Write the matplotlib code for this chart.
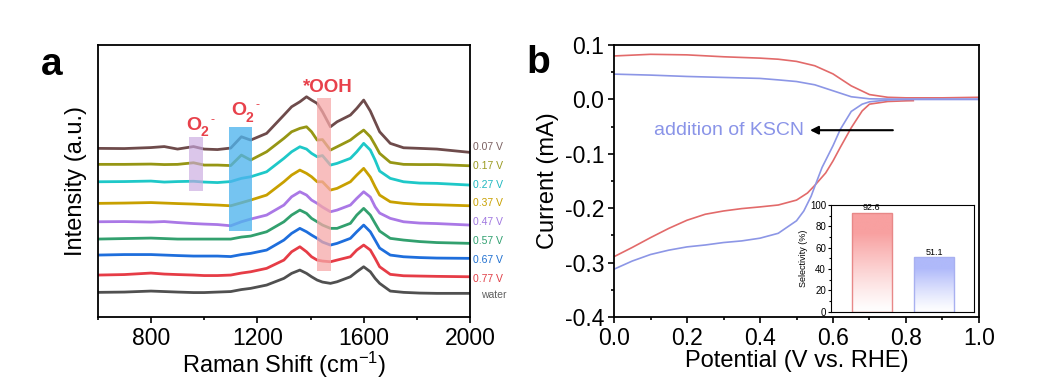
import numpy as np
import matplotlib
matplotlib.use('Agg')
import matplotlib.pyplot as plt
from matplotlib.ticker import MultipleLocator, FormatStrFormatter, NullLocator
import matplotlib.transforms as mtransforms
from matplotlib.colors import to_rgb

plt.rcParams['font.family'] = ['Liberation Sans', 'DejaVu Sans']
plt.rcParams['mathtext.fontset'] = 'custom'
plt.rcParams['mathtext.rm'] = 'Liberation Sans'
plt.rcParams['mathtext.it'] = 'Liberation Sans:italic'
plt.rcParams['mathtext.bf'] = 'Liberation Sans:bold'
plt.rcParams['axes.unicode_minus'] = False

# ---------------- Panel a data (Raman) ----------------
raman_shift = [600, 700, 800, 850, 900, 960, 1000, 1050, 1100, 1140, 1175, 1235, 1300, 1329,
               1360, 1385, 1404, 1425, 1445, 1475, 1500, 1550, 1574, 1600, 1625, 1643, 1660,
               1700, 1750, 1810, 1875, 2000]
spec_007 = [168.7, 168.5, 169.5, 170.5, 168, 170.5, 168, 167.5, 169, 180.3, 177, 183.7, 202, 210.3,
            215.3, 220.3, 217, 213.7, 205.3, 190.3, 195.3, 202, 208.7, 217, 206, 195.3, 185.3,
            173.7, 169.3, 168.7, 168, 164.7]
spec_017 = [152.7, 152.7, 153, 152.5, 152.7, 154.3, 152, 152, 151.5, 162, 157, 165.3, 178.7, 185.3,
            188.7, 190.3, 185.3, 177, 177.5, 167, 170.3, 177, 182, 187, 180.3, 172, 163.7,
            154.7, 152.7, 152.5, 152.5, 151.3]
spec_027 = [135.3, 135.5, 136, 135, 135.5, 135.8, 135, 134.5, 135.5, 138.7, 140.3, 145.3, 158.7, 165.3,
            170.3, 168, 163.7, 160.3, 161.5, 152, 153.7, 158.7, 165.3, 173.7, 167, 157, 146,
            138.7, 135.3, 134, 133.7, 132]
spec_037 = [113.7, 114, 114.5, 114, 113.5, 113, 112.5, 112, 111.3, 114.3, 117, 122, 135.3, 142,
            147, 143.7, 140.3, 135.3, 135.3, 127, 128.7, 135.3, 142, 148.7, 140, 130.3, 122,
            115.3, 113.7, 112.7, 112.3, 111.3]
spec_047 = [95.3, 95.5, 95, 95.5, 94.5, 93.5, 93, 92.5, 91.3, 95.3, 98, 102, 112, 120.3,
            125.3, 122, 117, 113.7, 110, 105.3, 107, 112, 118.7, 125.3, 120, 110.3, 104,
            98.7, 95.3, 94, 93.5, 92]
spec_057 = [78, 78.5, 79, 78.5, 78, 78, 78, 78, 78, 80, 81, 85.3, 95.3, 102,
            107, 103.7, 98.7, 95.3, 92, 88.7, 88.7, 93.7, 102, 108.7, 102, 93.7, 86,
            78.7, 77, 75.5, 74.5, 73.7]
spec_067 = [62, 62.5, 62.5, 62, 61.5, 61, 61, 61, 60.5, 62.5, 63.7, 67, 77, 83.7,
            88.7, 85.3, 82, 78.7, 75, 72, 73.7, 78.7, 85.3, 92, 85.3, 77, 69,
            62, 60.3, 59.5, 59, 58.7]
spec_077 = [42, 42.5, 44, 43, 42.5, 42, 41.5, 41.5, 42, 44, 45.3, 48.7, 57, 65.3,
            70.3, 65.3, 60.3, 57, 56, 55.3, 57, 60.3, 67, 72, 67, 58.7, 50.3,
            42.7, 41.3, 41, 40.7, 40.3]
spec_water = [24.7, 25, 26, 25.5, 25, 24.5, 24.5, 25, 25.5, 27.5, 28.7, 32, 38.7, 43.7,
              47, 43.7, 40.3, 37, 35, 33.7, 35.3, 40.3, 45.3, 50.3, 45.3, 38.7, 33.7,
              26, 24.7, 24, 23.7, 23.7]
spectra = [spec_007, spec_017, spec_027, spec_037, spec_047, spec_057, spec_067, spec_077, spec_water]
spec_labels = ['0.07 V', '0.17 V', '0.27 V', '0.37 V', '0.47 V', '0.57 V', '0.67 V', '0.77 V', 'water']
spec_label_y = [169.7, 151, 132, 113.7, 95.3, 76.3, 57, 37.7, 22]
spec_colors = ['#6E4B4B', '#969614', '#1EC8C8', '#C8A000', '#AA78E6', '#32A06E', '#1E6EDC',
               '#E63C46', '#505050']
label_colors = ['#7A6060', '#9A9A20', '#20B8C0', '#C8A000', '#A078E0', '#30A070', '#2070D0',
                '#E04048', '#606060']

# highlight bands: (x0, x1, y0, y1)
band_o2_a = (943, 996, 126.3, 180.3)
band_o2_b = (1093, 1180, 86.3, 190.3)
band_ooh = (1423, 1476, 46, 219.3)

# ---------------- Panel b data (LSV) ----------------
pot_up = [0, 0.1, 0.2, 0.3, 0.4, 0.45, 0.5, 0.55, 0.6, 0.65, 0.7, 0.75, 0.8, 0.9, 1.0]
ring_red = [0.080, 0.083, 0.082, 0.0785, 0.076, 0.074, 0.070, 0.062, 0.047, 0.025, 0.009,
            0.004, 0.003, 0.003, 0.004]
ring_blue = [0.0466, 0.0448, 0.0423, 0.0405, 0.0387, 0.036, 0.033, 0.027, 0.016, 0.005,
             0.0012, 0.0008, 0.0006, 0.0006, 0.0006]
pot_red = [0, 0.05, 0.1, 0.15, 0.2, 0.25, 0.3, 0.35, 0.4, 0.45, 0.5, 0.53, 0.55, 0.58, 0.6,
           0.62, 0.65, 0.68, 0.7, 0.75, 0.8, 0.82]
disk_red = [-0.289, -0.272, -0.254, -0.237, -0.222, -0.211, -0.205, -0.2006, -0.1975, -0.194,
            -0.185, -0.172, -0.158, -0.135, -0.113, -0.088, -0.052, -0.021, -0.0086, -0.0037,
            -0.0025, -0.0022]
pot_blue = [0, 0.05, 0.1, 0.15, 0.2, 0.25, 0.3, 0.35, 0.4, 0.45, 0.5, 0.52, 0.54, 0.55, 0.57,
            0.6, 0.62, 0.65, 0.68, 0.7, 0.75, 0.8, 0.9, 1.0]
disk_blue = [-0.312, -0.297, -0.285, -0.277, -0.271, -0.2675, -0.263, -0.260, -0.255, -0.246,
             -0.223, -0.205, -0.178, -0.160, -0.125, -0.085, -0.055, -0.022, -0.0086, -0.0043,
             -0.001, 0.0, 0.0, 0.0]

# inset selectivity
sel_pos = [1, 2]
sel_vals = [92.6, 51.1]
sel_colors = ['#F8A0A0', '#AFB9FA']
sel_edges = ['#E88888', '#A8B0F0']

RED = '#E26A6A'
BLUE = '#8C96E6'
LRED = '#E8414B'

fig = plt.figure(figsize=(10.57, 3.82), dpi=100)

# ================= Panel a =================
axa = fig.add_axes([0.0925, 0.170, 0.3522, 0.712])
for s, c in zip(spectra, spec_colors):
    axa.plot(raman_shift, s, color=c, lw=2.0, solid_joinstyle='round', zorder=2)
for (x0, x1, y0, y1), fc, al in [(band_o2_a, '#C8A8E0', 0.65),
                                 (band_o2_b, '#4EB4EE', 0.78),
                                 (band_ooh, '#F6A8A8', 0.75)]:
    axa.fill_between([x0, x1], [y0, y0], [y1, y1], color=fc, alpha=al, lw=0, zorder=3)
axa.set_xlim(600, 2000)
axa.set_ylim(0, 272)
axa.set_xticks([800, 1200, 1600, 2000])
axa.xaxis.set_minor_locator(MultipleLocator(200))
axa.yaxis.set_major_locator(NullLocator())
axa.tick_params(axis='x', which='major', direction='out', length=4, width=1.2, labelsize=16.5, pad=3)
axa.tick_params(axis='x', which='minor', direction='out', length=2.5, width=1.2)
for sp in axa.spines.values():
    sp.set_linewidth(1.3)
axa.set_xlabel('Raman Shift (cm$^{-1}$)', fontsize=17, labelpad=0)
axa.set_ylabel('Intensity (a.u.)', fontsize=17, labelpad=8)

trans = mtransforms.blended_transform_factory(axa.transAxes, axa.transData)
for lab, yy, c in zip(spec_labels, spec_label_y, label_colors):
    if lab == 'water':
        axa.text(1.097, yy, lab, transform=trans, fontsize=7.5, color=c, ha='right', va='center')
    else:
        axa.text(1.009, yy, lab, transform=trans, fontsize=7.5, color=c, ha='left', va='center')


def o2_label(ax, x, y):
    ax.text(x, y, 'O', color=LRED, fontsize=14, fontweight='bold', ha='center', va='center')
    ax.annotate('2', xy=(x, y), xytext=(7.6, -5), textcoords='offset points', color=LRED,
                fontsize=10, fontweight='bold', ha='center', va='center')
    ax.annotate('-', xy=(x, y), xytext=(13.5, 3.8), textcoords='offset points', color=LRED,
                fontsize=9, ha='center', va='center')


o2_label(axa, 962, 192)
o2_label(axa, 1131, 206.5)
axa.text(1464, 229.5, '*OOH', color=LRED, fontsize=13.5, fontweight='bold', ha='center', va='center')

fig.text(0.049, 0.83, 'a', fontsize=28, fontweight='bold', ha='center', va='center')

# ================= Panel b =================
axb = fig.add_axes([0.5809, 0.170, 0.3453, 0.712])
axb.plot(pot_up, ring_red, color=RED, lw=1.2)
axb.plot(pot_up, ring_blue, color=BLUE, lw=1.2)
axb.plot(pot_red, disk_red, color=RED, lw=1.2)
axb.plot(pot_blue, disk_blue, color=BLUE, lw=1.2)
axb.set_xlim(0, 1)
axb.set_ylim(-0.4, 0.1)
axb.xaxis.set_major_locator(MultipleLocator(0.2))
axb.xaxis.set_minor_locator(MultipleLocator(0.1))
axb.yaxis.set_major_locator(MultipleLocator(0.1))
axb.yaxis.set_minor_locator(MultipleLocator(0.05))
axb.xaxis.set_major_formatter(FormatStrFormatter('%.1f'))
axb.yaxis.set_major_formatter(FormatStrFormatter('%.1f'))
axb.tick_params(which='major', direction='out', length=4, width=1.2, labelsize=16.5, pad=3)
axb.tick_params(which='minor', direction='out', length=2.5, width=1.2)
for sp in axb.spines.values():
    sp.set_linewidth(1.3)
axb.set_xlabel('Potential (V vs. RHE)', fontsize=17, labelpad=0)
axb.set_ylabel('Current (mA)', fontsize=17, labelpad=4)

axb.annotate('', xy=(0.537, -0.0565), xytext=(0.764, -0.0565),
             arrowprops=dict(arrowstyle='-|>', color='black', lw=1.5, mutation_scale=12,
                             shrinkA=0, shrinkB=0))
axb.text(0.11, -0.0565, 'addition of KSCN', color='#8A94E8', fontsize=14, ha='left', va='center')

fig.text(0.509, 0.836, 'b', fontsize=28, fontweight='bold', ha='center', va='center')

# ================= Inset =================
axi = fig.add_axes([0.786, 0.184, 0.1359, 0.279])
bw = 0.635
for xp, v, tc, ec in zip(sel_pos, sel_vals, sel_colors, sel_edges):
    top = np.array(to_rgb(tc))
    t = np.linspace(0, 1, 256)[:, None]
    f = np.clip(t * 1.25, 0, 1) ** 1.2
    rgb = (1 - f) * 1.0 + f * top[None, :]
    img = rgb[:, None, :]
    axi.imshow(img, extent=(xp - bw / 2, xp + bw / 2, 0, v), origin='lower',
               aspect='auto', zorder=1)
    axi.bar(xp, v, width=bw, fill=False, edgecolor=ec, lw=1.0, zorder=2)
    axi.text(xp, v + 0.5, f'{v:.1f}', fontsize=6.5, ha='center', va='bottom')
axi.set_xlim(0.34, 2.649)
axi.set_ylim(0, 100)
axi.set_aspect('auto')
axi.xaxis.set_major_locator(NullLocator())
axi.yaxis.set_major_locator(MultipleLocator(20))
axi.yaxis.set_minor_locator(MultipleLocator(10))
axi.tick_params(axis='y', which='major', direction='out', length=2.5, width=0.8, labelsize=7, pad=1)
axi.tick_params(axis='y', which='minor', direction='out', length=1.5, width=0.8)
for sp in axi.spines.values():
    sp.set_linewidth(0.8)
axi.set_ylabel('Selectivity (%)', fontsize=6.5, labelpad=1)

fig.savefig('out.png', dpi=100)
